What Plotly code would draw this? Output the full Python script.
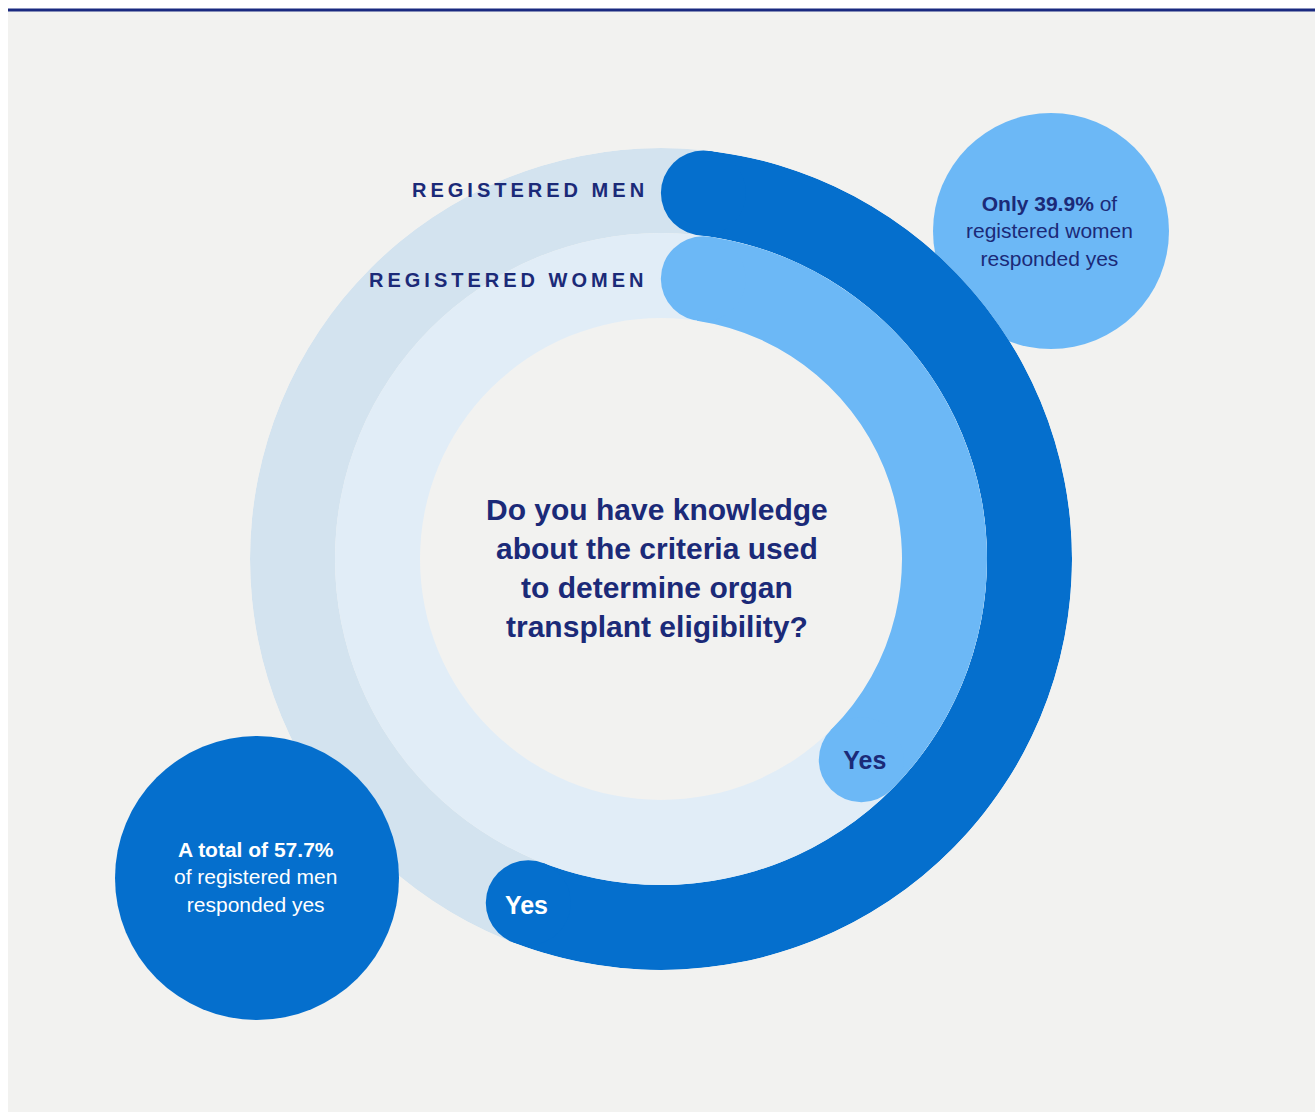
import math
import plotly.graph_objects as go

# Survey results: share of registered respondents answering "Yes"
groups = ["Registered men", "Registered women"]
yes_pct = [57.7, 39.9]
ring_labels = ["REGISTERED MEN", "REGISTERED WOMEN"]
question = "Do you have knowledge<br>about the criteria used<br>to determine organ<br>transplant eligibility?"
callouts = [
    "<b>A total of 57.7%</b><br>of registered men<br>responded yes",
    "<b>Only 39.9%</b> of<br>registered women<br>responded yes",
]

W, H = 1315, 1112
CX, CY, R = 661, 559, 411          # ring centre / outer radius in px
THICK = 85                         # ring thickness (radial units == px)
ring_base = [R - THICK, R - 2 * THICK]

NAVY = "#1b2a78"
bar_colors = ["#056fcd", "#6cb8f6"]
track_colors = ["#d3e3ef", "#e1edf7"]
yes_colors = ["white", NAVY]

fig = go.Figure()

for i in range(2):
    base = ring_base[i]
    mid = base + THICK / 2
    # background track
    fig.add_trace(go.Barpolar(r=[THICK], base=[base], theta=[180], width=[360],
                              marker=dict(color=track_colors[i], line=dict(width=0)),
                              hoverinfo="skip", showlegend=False))
    # value arc, rounded ends included within the value
    cap = math.degrees((THICK / 2) / mid)
    end = yes_pct[i] * 3.6
    a0, a1 = cap, end - cap
    fig.add_trace(go.Barpolar(r=[THICK], base=[base], theta=[(a0 + a1) / 2], width=[a1 - a0],
                              marker=dict(color=bar_colors[i], line=dict(width=0)),
                              name=groups[i], hoverinfo="skip", showlegend=False))
    fig.add_trace(go.Scatterpolar(r=[mid, mid], theta=[a0, a1], mode="markers",
                                  marker=dict(size=THICK, color=bar_colors[i], line=dict(width=0)),
                                  hoverinfo="skip", showlegend=False))
    fig.add_trace(go.Scatterpolar(r=[mid + 5], theta=[a1], mode="text", text=["<b>Yes</b>"],
                                  textfont=dict(family="Arial", size=25, color=yes_colors[i]),
                                  textposition="middle center",
                                  hoverinfo="skip", showlegend=False))

fig.update_layout(
    width=W, height=H,
    margin=dict(l=0, r=0, t=0, b=0),
    paper_bgcolor="white",
    plot_bgcolor="rgba(0,0,0,0)",
    polar=dict(
        domain=dict(x=[(CX - R) / W, (CX + R) / W], y=[(H - CY - R) / H, (H - CY + R) / H]),
        bgcolor="rgba(0,0,0,0)",
        hole=0,
        barmode="overlay",
        radialaxis=dict(range=[0, R], visible=False),
        angularaxis=dict(direction="clockwise", rotation=90, visible=False),
    ),
)


def px(x):
    return x / W


def py(y):
    return 1 - y / H


# paper background and top rule
fig.add_shape(type="rect", xref="paper", yref="paper", x0=px(8), x1=1, y0=0, y1=py(10),
              fillcolor="#f2f2f0", line=dict(width=0), layer="below")
fig.add_shape(type="line", xref="paper", yref="paper", x0=px(8), x1=1, y0=py(10), y1=py(10),
              line=dict(color="#1a2a80", width=3), layer="below")

# callout bubbles
fig.add_shape(type="circle", xref="paper", yref="paper",
              x0=px(1051 - 118), x1=px(1051 + 118), y0=py(231 + 118), y1=py(231 - 118),
              fillcolor="#6cb8f6", line=dict(width=0), layer="below")
fig.add_shape(type="circle", xref="paper", yref="paper",
              x0=px(257 - 142), x1=px(257 + 142), y0=py(878 + 142), y1=py(878 - 142),
              fillcolor=bar_colors[0], line=dict(width=0), layer="above")

fig.add_annotation(x=px(255), y=py(877), xref="paper", yref="paper", text=callouts[0],
                   showarrow=False, font=dict(family="Arial", size=21, color="white"),
                   align="center", xanchor="center", yanchor="middle")
fig.add_annotation(x=px(1049), y=py(231), xref="paper", yref="paper", text=callouts[1],
                   showarrow=False, font=dict(family="Arial", size=21, color=NAVY),
                   align="center", xanchor="center", yanchor="middle")

# centre question
fig.add_annotation(x=px(657), y=py(568), xref="paper", yref="paper", text="<b>" + question + "</b>",
                   showarrow=False, font=dict(family="Arial", size=30, color=NAVY),
                   align="center", xanchor="center", yanchor="middle")

# ring labels (letter-spaced)
label_y = [190, 280]
for i, lab in enumerate(ring_labels):
    spaced = "\u2009".join(lab)
    fig.add_annotation(x=px(646), y=py(label_y[i]), xref="paper", yref="paper", text="<b>" + spaced + "</b>",
                       showarrow=False, font=dict(family="Arial", size=20, color=NAVY),
                       xanchor="right", yanchor="middle")

fig.write_html("out.html")
